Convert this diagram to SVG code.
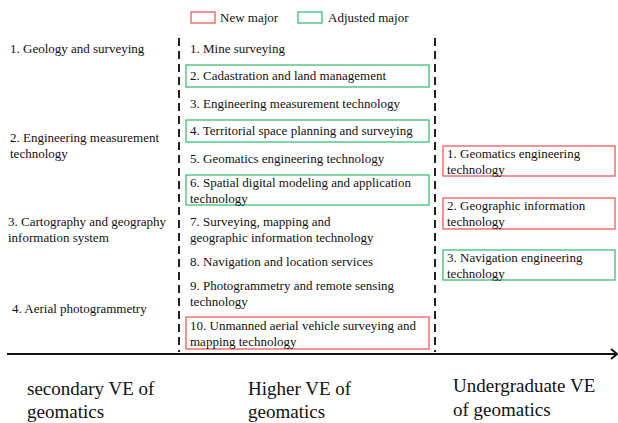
<svg xmlns="http://www.w3.org/2000/svg" width="618" height="423" viewBox="0 0 618 423">
  <rect width="618" height="423" fill="#fff"/>

  <!-- legend -->
  <g id="legend">
    <rect x="191" y="12" width="24" height="11" fill="none" stroke="#f05a5a" stroke-width="1.3"/>
    <text x="220" y="22" style="font-family:'Liberation Serif',serif;font-size:13px" fill="#111">New major</text>
    <rect x="298" y="12" width="24" height="11" fill="none" stroke="#3cbf73" stroke-width="1.3"/>
    <text x="328" y="22" style="font-family:'Liberation Serif',serif;font-size:13px" fill="#111">Adjusted major</text>
  </g>

  <!-- connectors: column dividers and the time axis with its arrowhead -->
  <g id="connectors" fill="none">
    <line x1="179" y1="38" x2="179" y2="352" stroke="#222" stroke-width="2" stroke-dasharray="8 5"/>
    <line x1="435" y1="38" x2="435" y2="352" stroke="#222" stroke-width="2" stroke-dasharray="8 5"/>
    <line x1="7" y1="354" x2="616" y2="354" stroke="#111" stroke-width="2.2"/>
    <polyline points="611,349 617,354 611,359" stroke="#111" stroke-width="2"/>
  </g>

  <!-- secondary VE column -->
  <g id="sec-1"><text x="10" y="53" style="font-family:'Liberation Serif',serif;font-size:13px" fill="#111">1. Geology and surveying</text></g>
  <g id="sec-2"><text x="10" y="142" style="font-family:'Liberation Serif',serif;font-size:13px" fill="#111">2. Engineering measurement</text><text x="10" y="158" style="font-family:'Liberation Serif',serif;font-size:13px" fill="#111">technology</text></g>
  <g id="sec-3"><text x="8" y="226" style="font-family:'Liberation Serif',serif;font-size:13px" fill="#111">3. Cartography and geography</text><text x="8" y="242" style="font-family:'Liberation Serif',serif;font-size:13px" fill="#111">information system</text></g>
  <g id="sec-4"><text x="12" y="313" style="font-family:'Liberation Serif',serif;font-size:13px" fill="#111">4. Aerial photogrammetry</text></g>

  <!-- higher VE column -->
  <g id="hi-1"><text x="190" y="53" style="font-family:'Liberation Serif',serif;font-size:13px" fill="#111">1. Mine surveying</text></g>
  <g id="hi-2"><rect x="186" y="65" width="243" height="22" fill="none" stroke="#3cbf73" stroke-width="1.3"/><text x="190" y="80" style="font-family:'Liberation Serif',serif;font-size:13px" fill="#111">2. Cadastration and land management</text></g>
  <g id="hi-3"><text x="190" y="108" style="font-family:'Liberation Serif',serif;font-size:13px" fill="#111">3. Engineering measurement technology</text></g>
  <g id="hi-4"><rect x="186" y="120" width="243" height="22" fill="none" stroke="#3cbf73" stroke-width="1.3"/><text x="190" y="135" style="font-family:'Liberation Serif',serif;font-size:13px" fill="#111">4. Territorial space planning and surveying</text></g>
  <g id="hi-5"><text x="190" y="163" style="font-family:'Liberation Serif',serif;font-size:13px" fill="#111">5. Geomatics engineering technology</text></g>
  <g id="hi-6"><rect x="186" y="175" width="243" height="30" fill="none" stroke="#3cbf73" stroke-width="1.3"/><text x="190" y="187" style="font-family:'Liberation Serif',serif;font-size:13px" fill="#111">6. Spatial digital modeling and application</text><text x="190" y="203" style="font-family:'Liberation Serif',serif;font-size:13px" fill="#111">technology</text></g>
  <g id="hi-7"><text x="190" y="226" style="font-family:'Liberation Serif',serif;font-size:13px" fill="#111">7. Surveying, mapping and</text><text x="190" y="242" style="font-family:'Liberation Serif',serif;font-size:13px" fill="#111">geographic information technology</text></g>
  <g id="hi-8"><text x="190" y="266" style="font-family:'Liberation Serif',serif;font-size:13px" fill="#111">8. Navigation and location services</text></g>
  <g id="hi-9"><text x="190" y="290" style="font-family:'Liberation Serif',serif;font-size:13px" fill="#111">9. Photogrammetry and remote sensing</text><text x="190" y="306" style="font-family:'Liberation Serif',serif;font-size:13px" fill="#111">technology</text></g>
  <g id="hi-10"><rect x="186" y="317" width="243" height="32" fill="none" stroke="#f05a5a" stroke-width="1.3"/><text x="190" y="330" style="font-family:'Liberation Serif',serif;font-size:13px" fill="#111">10. Unmanned aerial vehicle surveying and</text><text x="190" y="346" style="font-family:'Liberation Serif',serif;font-size:13px" fill="#111">mapping technology</text></g>

  <!-- undergraduate VE column -->
  <g id="ug-1"><rect x="443" y="146" width="172" height="30" fill="none" stroke="#f05a5a" stroke-width="1.3"/><text x="447" y="158" style="font-family:'Liberation Serif',serif;font-size:13px" fill="#111">1. Geomatics engineering</text><text x="447" y="174" style="font-family:'Liberation Serif',serif;font-size:13px" fill="#111">technology</text></g>
  <g id="ug-2"><rect x="443" y="198" width="172" height="31" fill="none" stroke="#f05a5a" stroke-width="1.3"/><text x="447" y="210" style="font-family:'Liberation Serif',serif;font-size:13px" fill="#111">2. Geographic information</text><text x="447" y="226" style="font-family:'Liberation Serif',serif;font-size:13px" fill="#111">technology</text></g>
  <g id="ug-3"><rect x="443" y="250" width="172" height="30" fill="none" stroke="#3cbf73" stroke-width="1.3"/><text x="447" y="262" style="font-family:'Liberation Serif',serif;font-size:13px" fill="#111">3. Navigation engineering</text><text x="447" y="278" style="font-family:'Liberation Serif',serif;font-size:13px" fill="#111">technology</text></g>

  <!-- axis labels -->
  <g id="lbl-sec"><text x="27" y="395" style="font-family:'Liberation Serif',serif;font-size:19px" fill="#111">secondary VE of</text><text x="27" y="418" style="font-family:'Liberation Serif',serif;font-size:19px" fill="#111">geomatics</text></g>
  <g id="lbl-hi"><text x="248" y="395" style="font-family:'Liberation Serif',serif;font-size:19px" fill="#111">Higher VE of</text><text x="248" y="418" style="font-family:'Liberation Serif',serif;font-size:19px" fill="#111">geomatics</text></g>
  <g id="lbl-ug"><text x="453" y="392" style="font-family:'Liberation Serif',serif;font-size:19px" fill="#111">Undergraduate VE</text><text x="453" y="416" style="font-family:'Liberation Serif',serif;font-size:19px" fill="#111">of geomatics</text></g>
</svg>
